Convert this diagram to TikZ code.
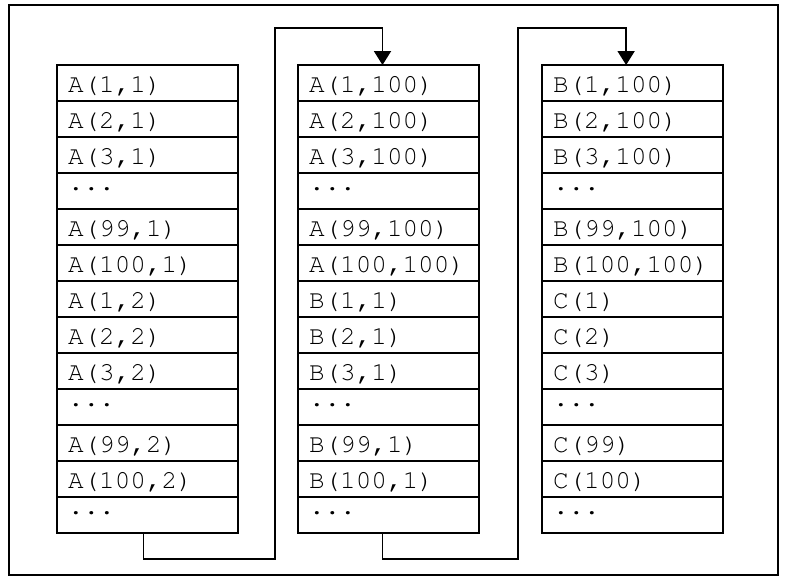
\documentclass[tikz,border=0pt]{standalone}
\usepackage[T1]{fontenc}
\usetikzlibrary{arrows.meta, positioning}

\newcommand{\skipdots}{\raisebox{0.4em}{...}}

\begin{document}
\begin{tikzpicture}[
  node distance=0cm,
  cell/.style={draw, line width=1.4pt, outer sep=0pt, minimum height=0.9cm,
               text width=3.975cm, inner xsep=0.275cm, inner ysep=0pt,
               align=left, text height=16pt, text depth=1.8pt,
               font=\fontfamily{pcr}\fontsize{18.5}{20}\selectfont},
  link/.style={line width=1.4pt},
  arr/.style={link, -{Triangle[length=0.35cm, width=0.425cm]}}
]
\useasboundingbox (0,0) rectangle (19.7,-14.45);

% Outer frame
\draw[line width=2pt] (0.225,-0.125) rectangle (19.45,-14.375);

% Column 1
\node[cell, anchor=north west] (a1) at (1.425,-1.625) {A(1,1)};
\node[cell, below=of a1] (a2) {A(2,1)};
\node[cell, below=of a2] (a3) {A(3,1)};
\node[cell, below=of a3] (a4) {\skipdots};
\node[cell, below=of a4] (a5) {A(99,1)};
\node[cell, below=of a5] (a6) {A(100,1)};
\node[cell, below=of a6] (a7) {A(1,2)};
\node[cell, below=of a7] (a8) {A(2,2)};
\node[cell, below=of a8] (a9) {A(3,2)};
\node[cell, below=of a9] (a10) {\skipdots};
\node[cell, below=of a10] (a11) {A(99,2)};
\node[cell, below=of a11] (a12) {A(100,2)};
\node[cell, below=of a12] (a13) {\skipdots};

% Column 2
\node[cell, anchor=north west] (b1) at (7.45,-1.625) {A(1,100)};
\node[cell, below=of b1] (b2) {A(2,100)};
\node[cell, below=of b2] (b3) {A(3,100)};
\node[cell, below=of b3] (b4) {\skipdots};
\node[cell, below=of b4] (b5) {A(99,100)};
\node[cell, below=of b5] (b6) {A(100,100)};
\node[cell, below=of b6] (b7) {B(1,1)};
\node[cell, below=of b7] (b8) {B(2,1)};
\node[cell, below=of b8] (b9) {B(3,1)};
\node[cell, below=of b9] (b10) {\skipdots};
\node[cell, below=of b10] (b11) {B(99,1)};
\node[cell, below=of b11] (b12) {B(100,1)};
\node[cell, below=of b12] (b13) {\skipdots};

% Column 3
\node[cell, anchor=north west] (c1) at (13.55,-1.625) {B(1,100)};
\node[cell, below=of c1] (c2) {B(2,100)};
\node[cell, below=of c2] (c3) {B(3,100)};
\node[cell, below=of c3] (c4) {\skipdots};
\node[cell, below=of c4] (c5) {B(99,100)};
\node[cell, below=of c5] (c6) {B(100,100)};
\node[cell, below=of c6] (c7) {C(1)};
\node[cell, below=of c7] (c8) {C(2)};
\node[cell, below=of c8] (c9) {C(3)};
\node[cell, below=of c9] (c10) {\skipdots};
\node[cell, below=of c10] (c11) {C(99)};
\node[cell, below=of c11] (c12) {C(100)};
\node[cell, below=of c12] (c13) {\skipdots};

% Turning points of the links
\coordinate (turnAB) at ([xshift=-0.575cm, yshift=0.925cm]b1.north west);
\coordinate (turnBC) at ([xshift=-0.6cm, yshift=0.925cm]c1.north west);

% Links: bottom of one column -> top of the next
\draw[arr] ([xshift=-0.1cm]a13.south) -- ++(0,-0.65) -| (turnAB)
           -| ([xshift=-0.15cm]b1.north);
\draw[arr] ([xshift=-0.15cm]b13.south) -- ++(0,-0.65) -| (turnBC)
           -| ([xshift=-0.16cm]c1.north);

\end{tikzpicture}
\end{document}
